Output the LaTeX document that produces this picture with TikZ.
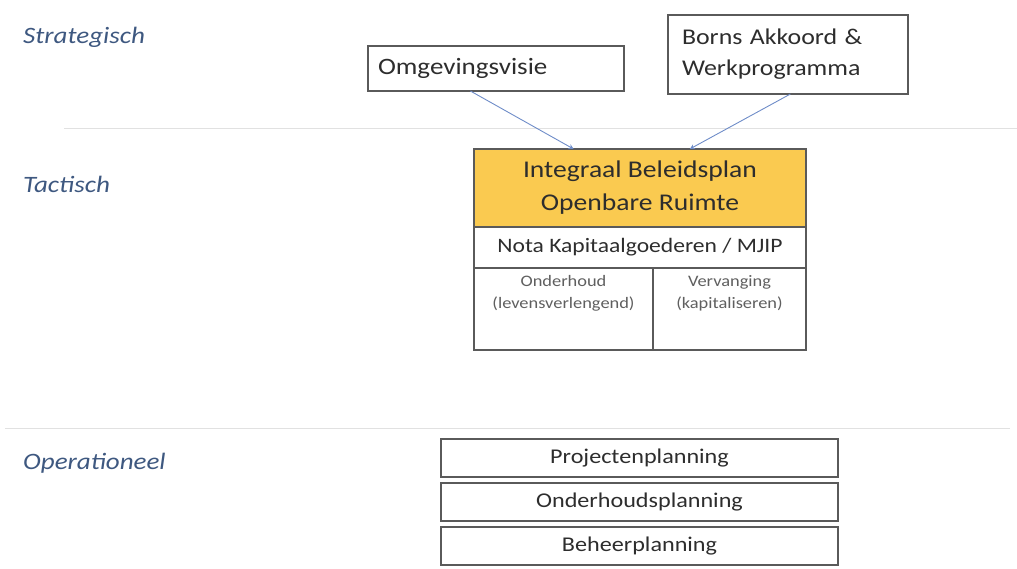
\documentclass[tikz,border=0pt]{standalone}
\usepackage{fontspec}
\setmainfont{Carlito}[FakeStretch=1.15]
\usetikzlibrary{arrows.meta,calc}
\definecolor{lbl}{RGB}{62,88,128}
\definecolor{gold}{RGB}{250,202,80}
\definecolor{txt}{RGB}{45,45,45}
\definecolor{smalltxt}{RGB}{95,95,95}
\definecolor{arr}{RGB}{110,140,200}
\definecolor{sep}{RGB}{225,225,225}
\definecolor{bord}{RGB}{90,90,90}
\begin{document}
\begin{tikzpicture}[x=1pt,y=-1pt,
  box/.style={draw=bord,line width=1.1pt,inner sep=0pt,outer sep=0pt,text=txt},
  opbox/.style={box,minimum width=397,minimum height=38,font=\fontsize{21}{24}\selectfont},
  lvl/.style={font=\fontsize{23.5}{26}\selectfont\itshape,text=lbl,anchor=west,inner sep=0pt},
  celltxt/.style={anchor=north,align=center,inner sep=0pt,text=smalltxt,font=\fontsize{16}{22}\selectfont},
  conn/.style={draw=arr,line width=0.9pt,-{Stealth[length=5pt,width=5pt]}},
  sepline/.style={draw=sep,line width=1pt}]
\useasboundingbox (0,0) rectangle (1017,568);
% level labels
\node[lvl] (strat) at (23,37) {Strategisch};
\node[lvl] (tact) at (23,184) {Tactisch};
\node[lvl] (oper) at (23,463) {Operationeel};
% separators
\coordinate (s1a) at (64,128); \coordinate (s1b) at (1017,128);
\coordinate (s2a) at (5,428); \coordinate (s2b) at (1010,428);
\draw[sepline] (s1a) -- (s1b);
\draw[sepline] (s2a) -- (s2b);
% strategic boxes
\node[box,minimum width=256,minimum height=45,text width=236,align=left,
  font=\fontsize{23.5}{28}\selectfont] (omg) at (496,68.5) {Omgevingsvisie};
\node[box,minimum width=240,minimum height=79,text width=212,align=left,
  font=\fontsize{22.5}{31}\selectfont] (borns) at (788,54.5) {Borns Akkoord \&\\Werkprogramma};
% tactical block
\node[box,fill=gold,minimum width=332,minimum height=78,align=center,
  font=\fontsize{24}{33}\selectfont] (ibp) at (640,188) {Integraal Beleidsplan\\Openbare Ruimte};
\node[box,minimum width=332,minimum height=41,align=center,
  font=\fontsize{20.5}{24}\selectfont] (nota) at (640,247.5) {Nota Kapitaalgoederen / MJIP};
\node[box,minimum width=179,minimum height=82] (ond) at (563.5,309) {};
\node[box,minimum width=153,minimum height=82] (verv) at (729.5,309) {};
\node[celltxt] (ondt) at ($(ond.north)+(0,7)$) {Onderhoud\\(levensverlengend)};
\node[celltxt] (vervt) at ($(verv.north)+(0,7)$) {Vervanging\\(kapitaliseren)};
% operational boxes
\node[opbox] (proj) at (639.5,458) {Projectenplanning};
\node[opbox] (onder) at (639.5,502) {Onderhoudsplanning};
\node[opbox] (beheer) at (639.5,546) {Beheerplanning};
% arrows
\draw[conn] ($(omg.south west)!0.40!(omg.south east)$) -- ($(ibp.north west)!0.30!(ibp.north east)$);
\draw[conn] ($(borns.south west)!0.51!(borns.south east)$) -- ($(ibp.north west)!0.65!(ibp.north east)$);
\end{tikzpicture}
\end{document}
